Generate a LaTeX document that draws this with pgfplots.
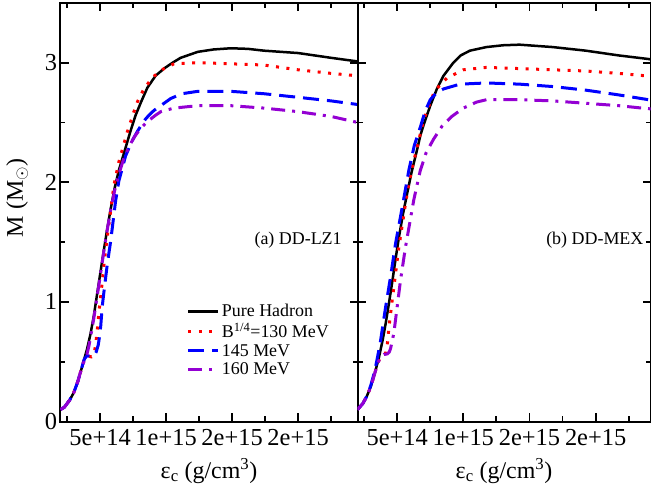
\documentclass[border=0pt]{standalone}
\usepackage{fontspec}
\setmainfont{Liberation Serif}
\usepackage{pgfplots}
\pgfplotsset{compat=1.18}
\usepackage{pgfplotstable}

\definecolor{myred}{RGB}{255,0,0}
\definecolor{myblue}{RGB}{0,0,255}
\definecolor{mypurple}{RGB}{148,0,211}

% x in units of 1e14 g/cm^3
\pgfplotstableread{
x M
2.0 0.10
2.3 0.12
2.7 0.18
3.0 0.24
3.3 0.33
3.64 0.46
4.0 0.60
4.27 0.73
4.52 0.88
4.78 1.07
5.03 1.25
5.28 1.43
5.54 1.61
5.79 1.77
6.1 1.95
6.42 2.10
6.88 2.27
7.31 2.43
7.69 2.56
8.1 2.67
8.58 2.79
9.2 2.89
9.84 2.95
10.5 3.00
11.1 3.04
12.4 3.09
13.6 3.11
14.9 3.12
16.2 3.115
17.4 3.10
20.0 3.08
22.5 3.04
24.5 3.01
}\LHad
\pgfplotstableread{
x M
2.0 0.10
2.3 0.12
2.7 0.18
3.0 0.24
3.3 0.33
3.64 0.46
3.8 0.52
3.95 0.545
4.15 0.545
4.35 0.54
4.48 0.55
4.6 0.60
4.7 0.68
4.8 0.78
4.9 0.90
5.1 1.10
5.3 1.32
5.54 1.54
5.8 1.76
6.04 1.97
6.42 2.17
7.06 2.42
7.5 2.57
7.82 2.67
8.32 2.78
9.0 2.88
9.84 2.95
10.6 2.99
12.4 3.00
14.9 2.99
17.4 2.98
20.0 2.94
22.5 2.91
24.5 2.89
}\LA
\pgfplotstableread{
x M
2.0 0.10
2.3 0.12
2.7 0.18
3.0 0.24
3.3 0.33
3.64 0.46
3.8 0.52
4.0 0.55
4.3 0.545
4.55 0.55
4.7 0.58
4.86 0.64
4.97 0.72
5.05 0.80
5.16 0.96
5.36 1.15
5.54 1.31
5.79 1.50
5.97 1.66
6.17 1.84
6.42 2.01
6.93 2.22
7.4 2.34
7.8 2.42
8.3 2.51
8.7 2.56
9.08 2.60
9.72 2.65
10.35 2.70
11.2 2.74
12.4 2.76
14.9 2.76
17.4 2.74
20.0 2.71
22.5 2.68
24.5 2.65
}\LB
\pgfplotstableread{
x M
2.0 0.10
2.3 0.12
2.7 0.18
3.0 0.24
3.3 0.33
3.64 0.46
3.85 0.52
4.0 0.56
4.15 0.63
4.3 0.72
4.52 0.86
4.78 1.05
5.03 1.23
5.28 1.42
5.54 1.60
5.79 1.76
6.1 1.93
6.4 2.06
6.8 2.20
7.2 2.30
7.6 2.38
8.0 2.44
8.5 2.50
9.2 2.56
9.6 2.59
10.6 2.62
12.4 2.64
14.9 2.64
17.4 2.62
20.0 2.59
22.5 2.55
24.5 2.50
}\LC

\pgfplotstableread{
x M
2.0 0.10
2.4 0.15
2.7 0.21
3.0 0.29
3.3 0.40
3.63 0.54
3.9 0.68
4.13 0.82
4.38 0.99
4.63 1.17
4.88 1.36
5.13 1.54
5.45 1.74
5.76 1.91
6.1 2.09
6.5 2.27
6.75 2.39
7.0 2.48
7.5 2.64
8.0 2.78
8.5 2.89
9.25 3.00
9.8 3.06
10.5 3.10
11.75 3.13
13.0 3.145
14.25 3.15
15.5 3.14
16.75 3.13
19.25 3.10
21.75 3.06
24.0 3.03
24.5 3.02
}\RHad
\pgfplotstableread{
x M
2.0 0.10
2.4 0.15
2.7 0.21
3.0 0.29
3.3 0.40
3.5 0.48
3.7 0.53
3.9 0.555
4.05 0.56
4.15 0.58
4.25 0.64
4.38 0.79
4.63 1.02
4.88 1.24
5.13 1.46
5.38 1.64
5.6 1.80
5.88 1.99
6.2 2.15
6.5 2.29
7.0 2.52
7.75 2.74
8.2 2.81
8.75 2.87
10.0 2.94
11.75 2.96
14.25 2.95
16.75 2.94
19.25 2.93
21.75 2.91
23.75 2.89
24.5 2.88
}\RA
\pgfplotstableread{
x M
2.0 0.10
2.4 0.15
2.7 0.21
3.0 0.30
3.3 0.42
3.5 0.53
3.75 0.68
4.13 0.96
4.5 1.21
4.88 1.49
5.38 1.79
5.88 2.10
6.3 2.31
6.75 2.46
7.1 2.59
7.5 2.69
8.0 2.75
8.5 2.78
9.75 2.82
11.75 2.83
14.25 2.82
16.75 2.80
19.25 2.77
21.75 2.73
24.0 2.69
24.5 2.68
}\RB
\pgfplotstableread{
x M
2.0 0.10
2.4 0.15
2.7 0.21
3.0 0.29
3.3 0.40
3.5 0.48
3.75 0.54
4.0 0.56
4.25 0.565
4.4 0.58
4.5 0.61
4.75 0.74
5.0 0.96
5.25 1.18
5.63 1.46
5.95 1.66
6.25 1.85
6.75 2.10
7.2 2.25
7.75 2.36
8.4 2.47
9.13 2.55
10.0 2.62
11.0 2.67
11.75 2.69
14.25 2.69
16.75 2.68
19.25 2.66
21.75 2.64
23.5 2.62
24.5 2.61
}\RC

\pgfplotsset{
  panel/.style={
    scale only axis,
    height=418.7bp,
    xmin=2, ymin=0, ymax=3.5,
    axis line style={line width=2bp},
    every tick/.style={black, line width=1.8bp},
    major tick length=8bp,
    minor tick length=5bp,
    xtick={5,10,15,20},
    xticklabels={5e+14,1e+15,2e+15,2e+15},
    minor xtick={2.5,7.5,12.5,17.5,22.5},
    ytick={0,1,2,3},
    minor ytick={0.5,1.5,2.5},
    tick label style={font=\fontsize{24.5}{25}\selectfont},
    xticklabel style={yshift=-4bp},
    label style={font=\fontsize{24}{28}\selectfont},
    xlabel={ε\textsubscript{c} (g/cm\textsuperscript{3})},
    xlabel style={at={(rel axis cs:0.5,-0.135)}, anchor=base},
    clip=true,
  },
  had/.style={black, line width=2.5bp},
  qa/.style={myred, line width=3bp, dash pattern=on 3bp off 7.5bp},
  qb/.style={myblue, line width=3bp, dash pattern=on 16bp off 8bp},
  qc/.style={mypurple, line width=3bp, dash pattern=on 14bp off 7bp on 3bp off 7bp},
}

\begin{document}
\begin{tikzpicture}
\useasboundingbox (-60.5bp,-68.5bp) rectangle (590.5bp,421.5bp);
\begin{axis}[panel, name=L, at={(0,0)}, anchor=south west,
  width=297bp, xmax=24.5,
  yticklabels={0,1,2,3},
  ylabel={M (M$_{\odot}$)},
  ylabel style={at={(rel axis cs:-0.146,0.534)}, anchor=center},
  legend style={at={(rel axis cs:0.425,0.285)}, anchor=north west, draw=none, fill=none,
    font=\fontsize{18}{20}\selectfont, row sep=1bp, inner sep=0pt},
  legend cell align=left,
  legend image code/.code={\draw (0bp,0bp) -- (30bp,0bp);},
]
\addplot[had] table {\LHad};
\addplot[qa] table {\LA};
\addplot[qb] table {\LB};
\addplot[qc] table {\LC};
\legend{Pure Hadron, B\textsuperscript{1/4}=130 MeV, 145 MeV, 160 MeV}
\node[font=\fontsize{18}{20}\selectfont] at (rel axis cs:0.80,0.433) {(a) DD-LZ1};
\end{axis}
\begin{axis}[panel, at={(297bp,0)}, anchor=south west,
  width=293bp, xmax=24.15,
  yticklabels={,,,},
]
\addplot[had] table {\RHad};
\addplot[qa] table {\RA};
\addplot[qb] table {\RB};
\addplot[qc] table {\RC};
\node[font=\fontsize{18}{20}\selectfont] at (rel axis cs:0.81,0.433) {(b) DD-MEX};
\end{axis}
\end{tikzpicture}
\end{document}
